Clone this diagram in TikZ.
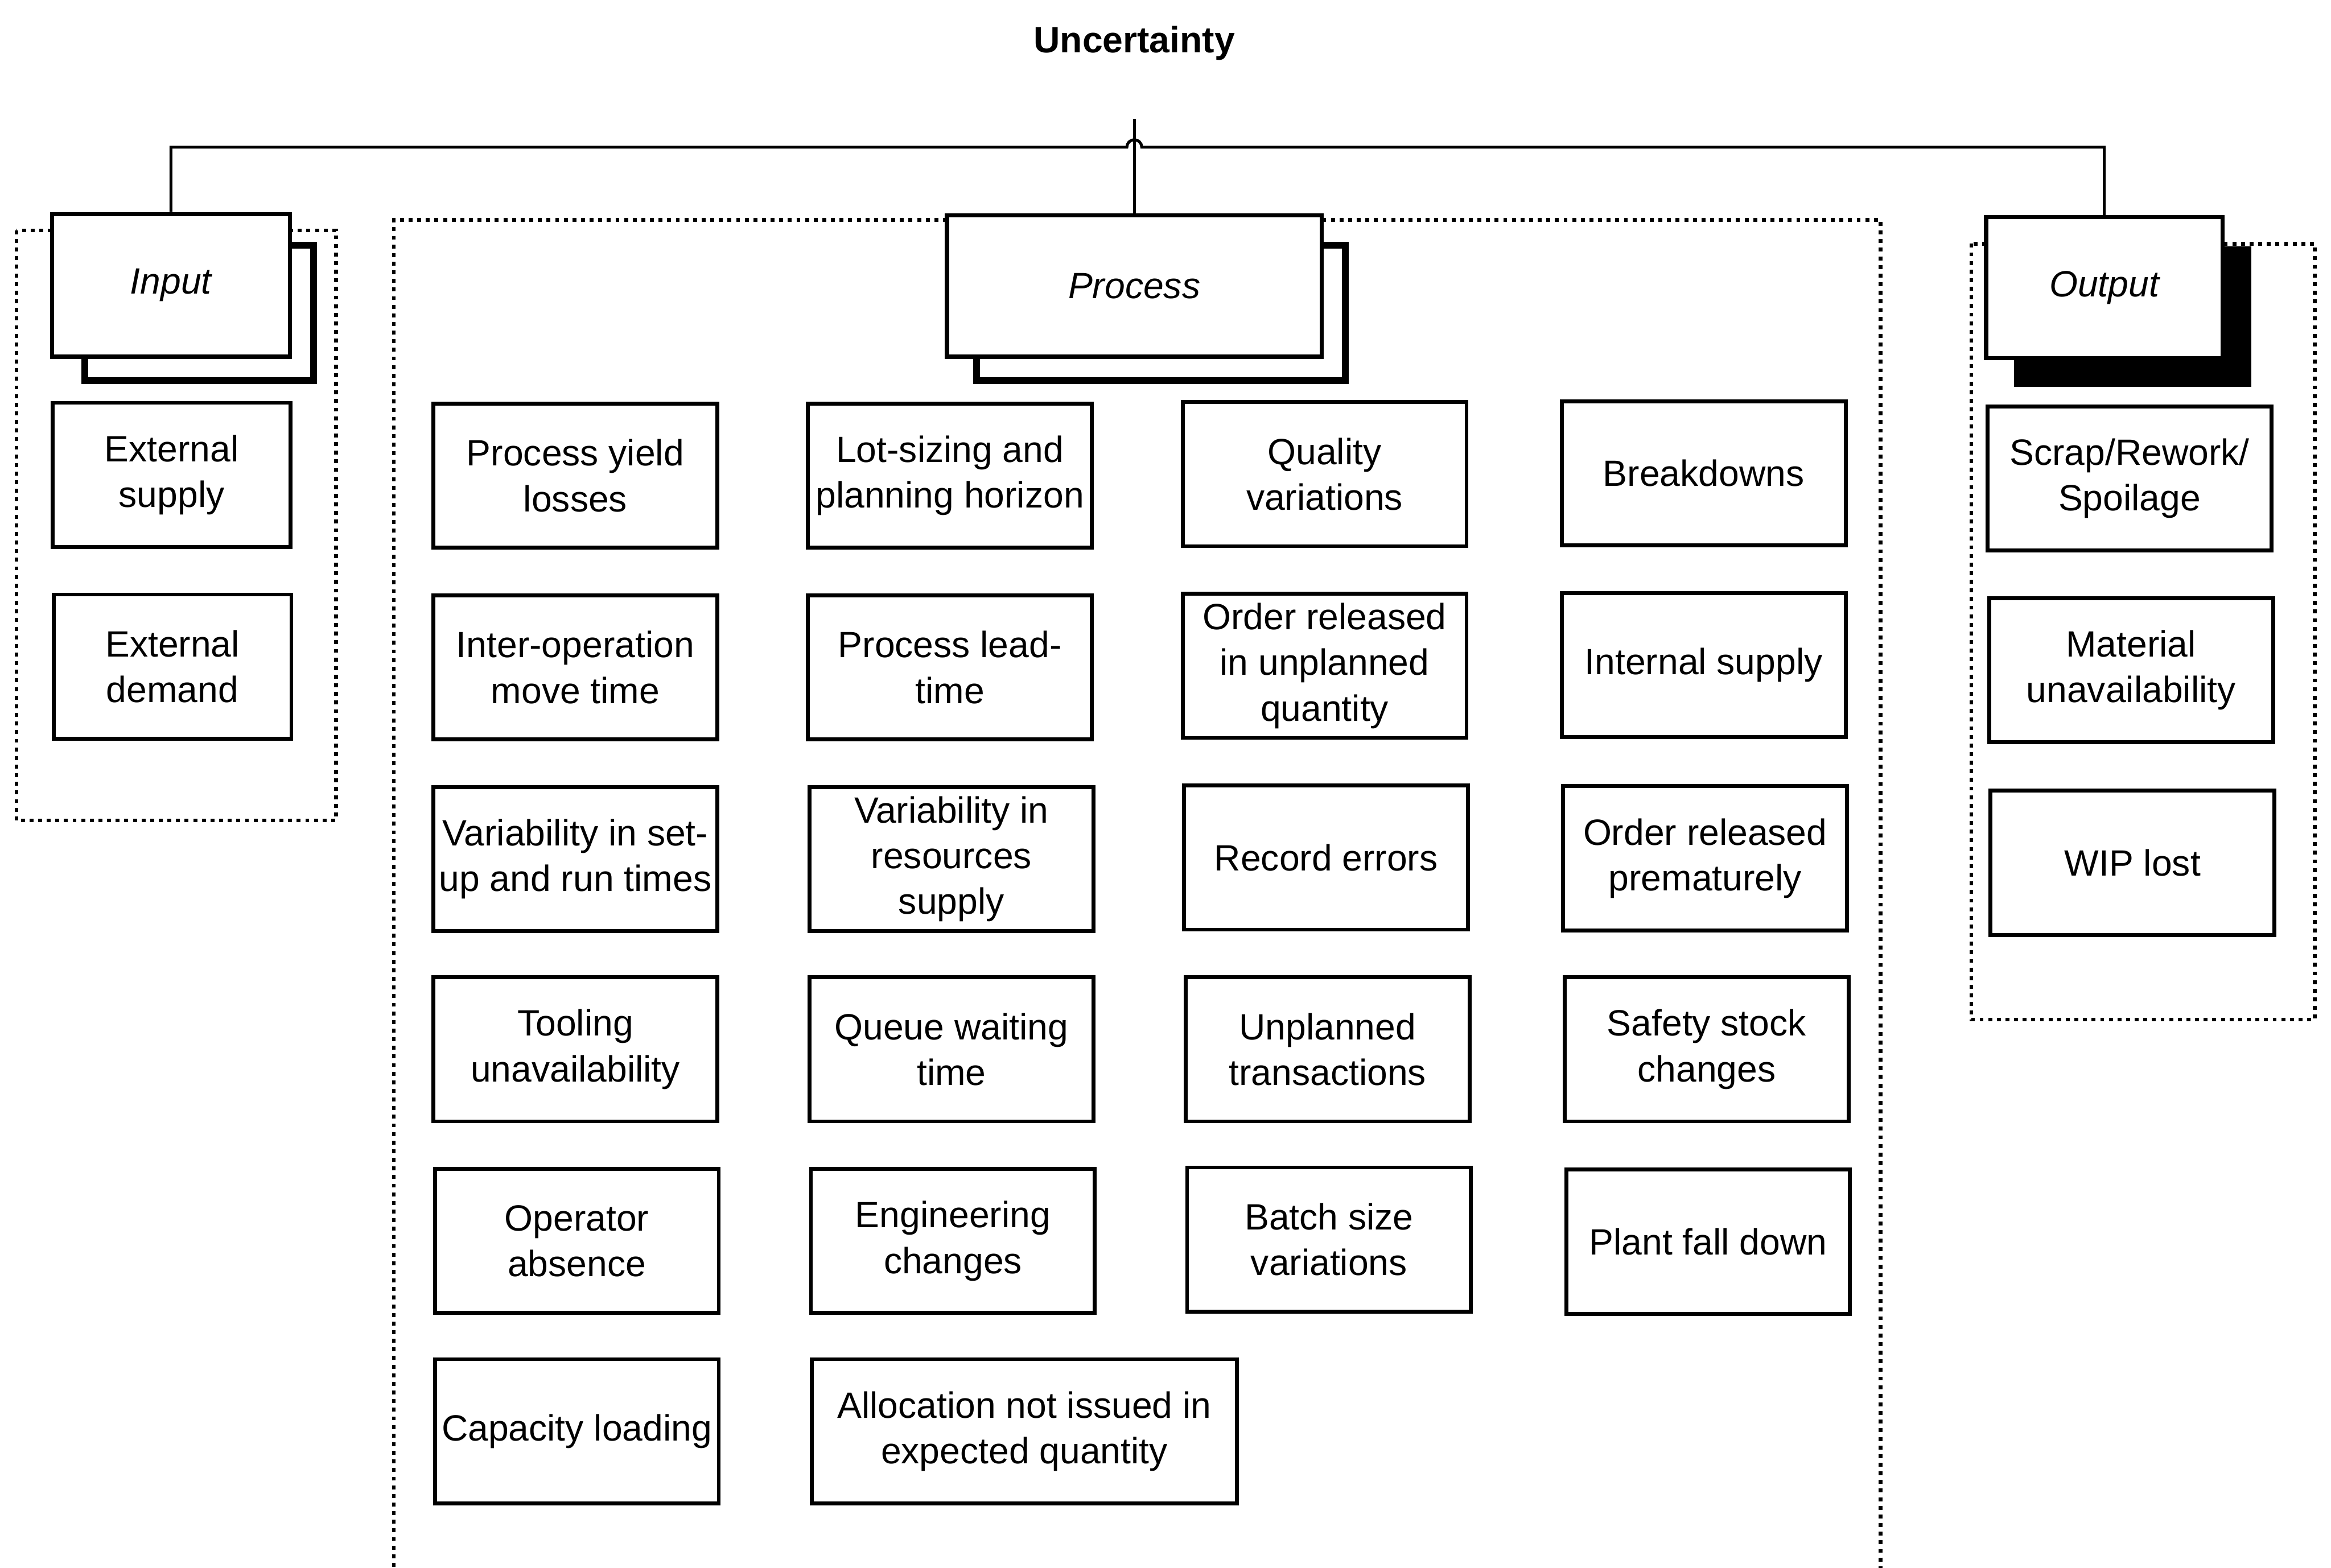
\documentclass[tikz,border=0pt]{standalone}
\usepackage{fontspec}
\setmainfont{Liberation Sans}
\begin{document}
\begin{tikzpicture}[x=0.02cm,y=-0.02cm,
  item/.style={draw, line width=1.5pt, minimum width=3.82cm, minimum height=1.94cm,
    align=center, inner xsep=1pt, font=\fontsize{14}{17.5}\selectfont},
  head/.style={draw, line width=1.6pt, fill=white, inner sep=0pt,
    font=\fontsize{14}{17}\selectfont\itshape},
  frame/.style={line width=1.4pt, dash pattern=on 1.5pt off 1.8pt},
  link/.style={line width=1.1pt},
  openshade/.style={draw, line width=2.6pt, fill=white},
  solidshade/.style={draw, line width=2.6pt, fill=black}
]
\useasboundingbox (0,0) rectangle (1568,1055);

% dotted group frames
\draw[frame] (11,155) rectangle (226,552);
\draw[frame] (265,1060) -- (265,148) -- (1265,148) -- (1265,1060);
\draw[frame] (1326,164) rectangle (1557,686);

% shadows behind the three group headings
\draw[openshade] (57,165) rectangle (211,256);
\draw[openshade] (657,165) rectangle (905,256);
\draw[solidshade] (1357,168) rectangle (1512,258);

% title and group headings
\node[font=\fontsize{14}{17}\selectfont\bfseries] (title) at (763,29) {Uncertainty};
\node[head, minimum width=3.2cm, minimum height=1.92cm] (input) at (115,192) {Input};
\node[head, minimum width=5.04cm, minimum height=1.9cm] (process) at (763,192.5) {Process};
\node[head, minimum width=3.18cm, minimum height=1.9cm] (output) at (1415.5,193.5) {Output};

% tree connectors
\coordinate (root) at (763,80);
\coordinate (hopL) at (758,99);
\draw[link] (input.north) -- (input.north |- hopL) -- (hopL)
  arc[start angle=180, end angle=0, radius=0.1cm] -- (output.north |- hopL) -- (output.north);
\draw[link] (root) -- (process.north);

% input items
\node[item, minimum width=3.2cm] (extsup) at (115.5,319.5) {External\\supply};
\node[item, minimum width=3.2cm] (extdem) at (116,448.5) {External\\demand};

% process items, column 1
\node[item] (p11) at (387,320) {Process yield\\losses};
\node[item] (p12) at (387,449) {Inter-operation\\move time};
\node[item] (p13) at (387,578) {Variability in set-\\up and run times};
\node[item] (p14) at (387,706) {Tooling\\unavailability};
\node[item] (p15) at (388,835) {Operator\\absence};
\node[item] (p16) at (388,963) {Capacity loading};

% process items, column 2
\node[item] (p21) at (639,320) {Lot-sizing and\\planning horizon};
\node[item] (p22) at (639,449) {Process lead-\\time};
\node[item] (p23) at (640,578) {Variability in\\resources\\supply};
\node[item] (p24) at (640,706) {Queue waiting\\time};
\node[item] (p25) at (641,835) {Engineering\\changes};
\node[item, minimum width=5.72cm] (p26) at (689,963) {Allocation not issued in\\expected quantity};

% process items, column 3
\node[item] (p31) at (891,319) {Quality\\variations};
\node[item] (p32) at (891,448) {Order released\\in unplanned\\quantity};
\node[item] (p33) at (892,577) {Record errors};
\node[item] (p34) at (893,706) {Unplanned\\transactions};
\node[item] (p35) at (894,834) {Batch size\\variations};

% process items, column 4
\node[item] (p41) at (1146,318.5) {Breakdowns};
\node[item] (p42) at (1146,447.5) {Internal supply};
\node[item] (p43) at (1147,577.5) {Order released\\prematurely};
\node[item] (p44) at (1148,706) {Safety stock\\changes};
\node[item] (p45) at (1149,835.5) {Plant fall down};

% output items
\node[item] (o1) at (1432.5,322) {Scrap/Rework/\\Spoilage};
\node[item] (o2) at (1433.5,451) {Material\\unavailability};
\node[item] (o3) at (1434.5,580.5) {WIP lost};
\end{tikzpicture}
\end{document}
